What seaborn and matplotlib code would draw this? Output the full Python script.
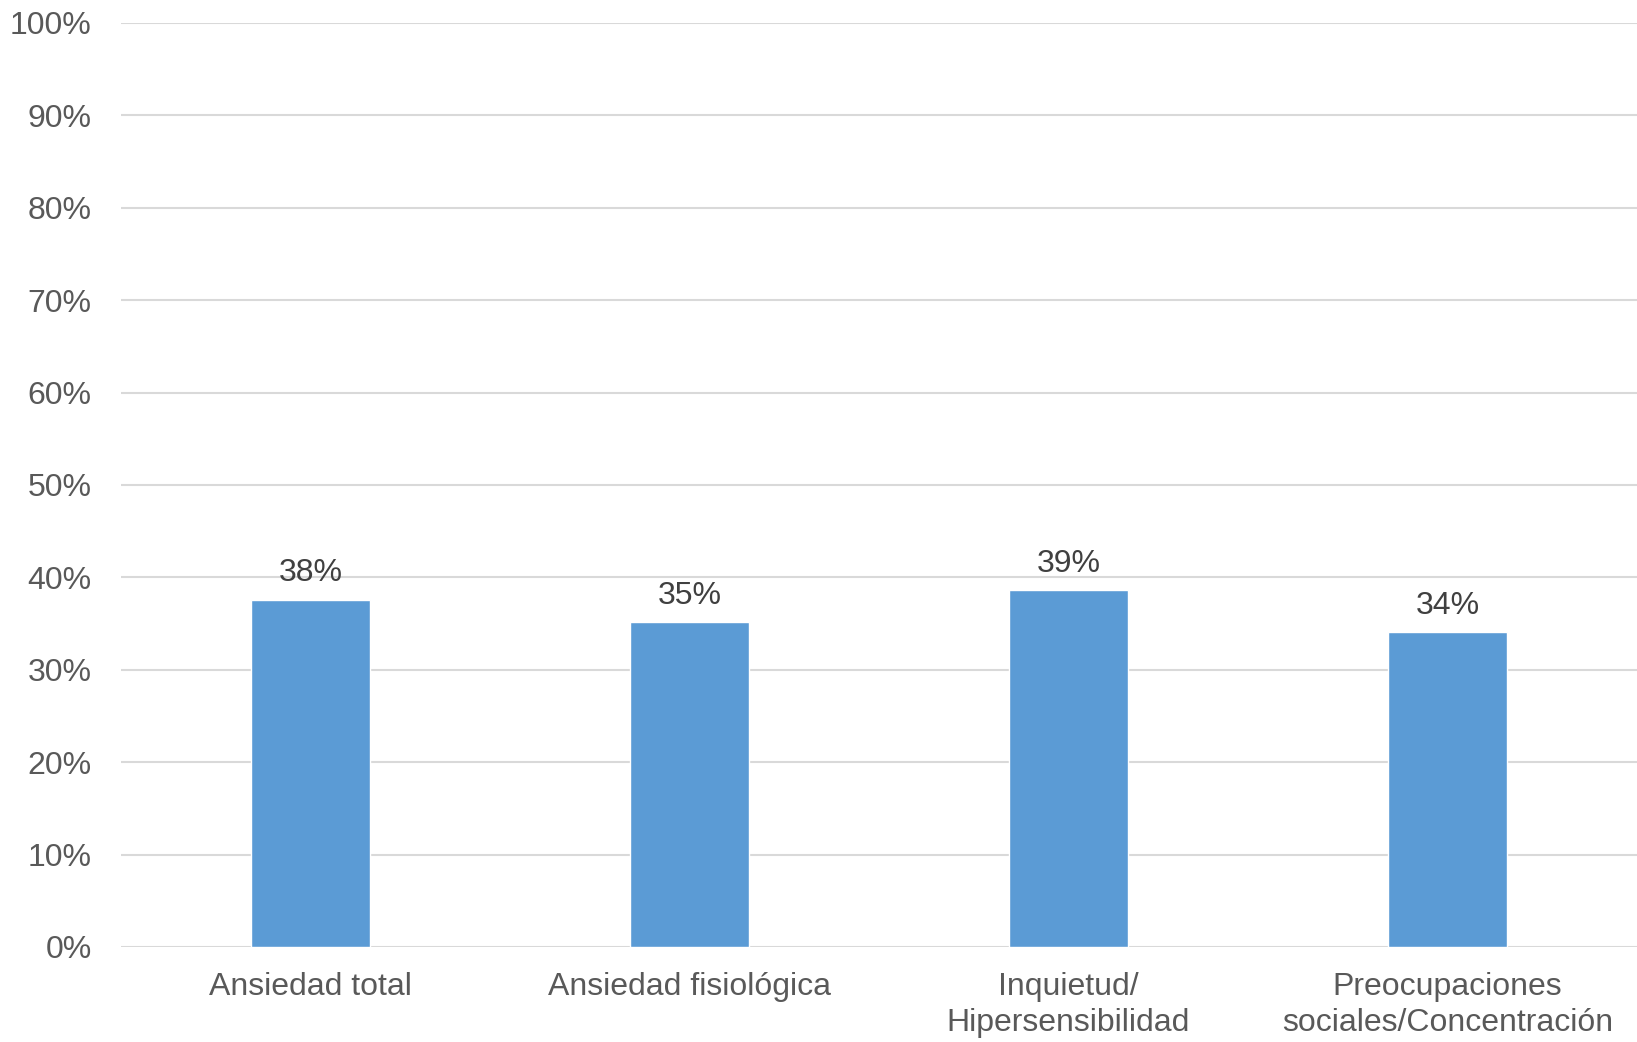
import matplotlib
matplotlib.use("Agg")
import matplotlib.pyplot as plt
import seaborn as sns
import pandas as pd
from matplotlib.ticker import PercentFormatter

categorias = ["Ansiedad total", "Ansiedad fisiológica", "Inquietud/\nHipersensibilidad",
              "Preocupaciones\nsociales/Concentración"]
valores = [0.376, 0.352, 0.386, 0.341]
etiquetas = ["38%", "35%", "39%", "34%"]

df = pd.DataFrame({"categoria": categorias, "valor": valores})

sns.set_theme(style="white")
plt.rcParams["font.family"] = ["Liberation Sans", "DejaVu Sans"]

fig = plt.figure(figsize=(16.37, 10.42), dpi=100)
ax = fig.add_axes([0.0739, 0.0912, 0.9261, 0.8868])

sns.barplot(data=df, x="categoria", y="valor", color="#5b9bd5", width=0.314,
            saturation=1, ax=ax, zorder=3)

ax.set_ylim(0, 1.0)
ax.set_xlim(-0.5, 3.5)
ax.set_yticks([i / 10 for i in range(11)])
ax.yaxis.set_major_formatter(PercentFormatter(1.0, decimals=0))
ax.grid(axis="y", color="#d9d9d9", linewidth=1.5, zorder=0)
ax.set_axisbelow(True)
for s in ax.spines.values():
    s.set_visible(False)
ax.set_xlabel("")
ax.set_ylabel("")
ax.tick_params(axis="y", length=0, pad=21, labelsize=23, labelcolor="#595959")
ax.tick_params(axis="x", length=0, pad=18, labelsize=23, labelcolor="#595959")
for t in ax.get_xticklabels():
    t.set_linespacing(1.25)

for bar, txt in zip(ax.patches, etiquetas):
    ax.annotate(txt, (bar.get_x() + bar.get_width() / 2, bar.get_height()),
                xytext=(0, 8), textcoords="offset points", ha="center", va="bottom",
                fontsize=23, color="#404040")

fig.savefig("out.png", dpi=100)
